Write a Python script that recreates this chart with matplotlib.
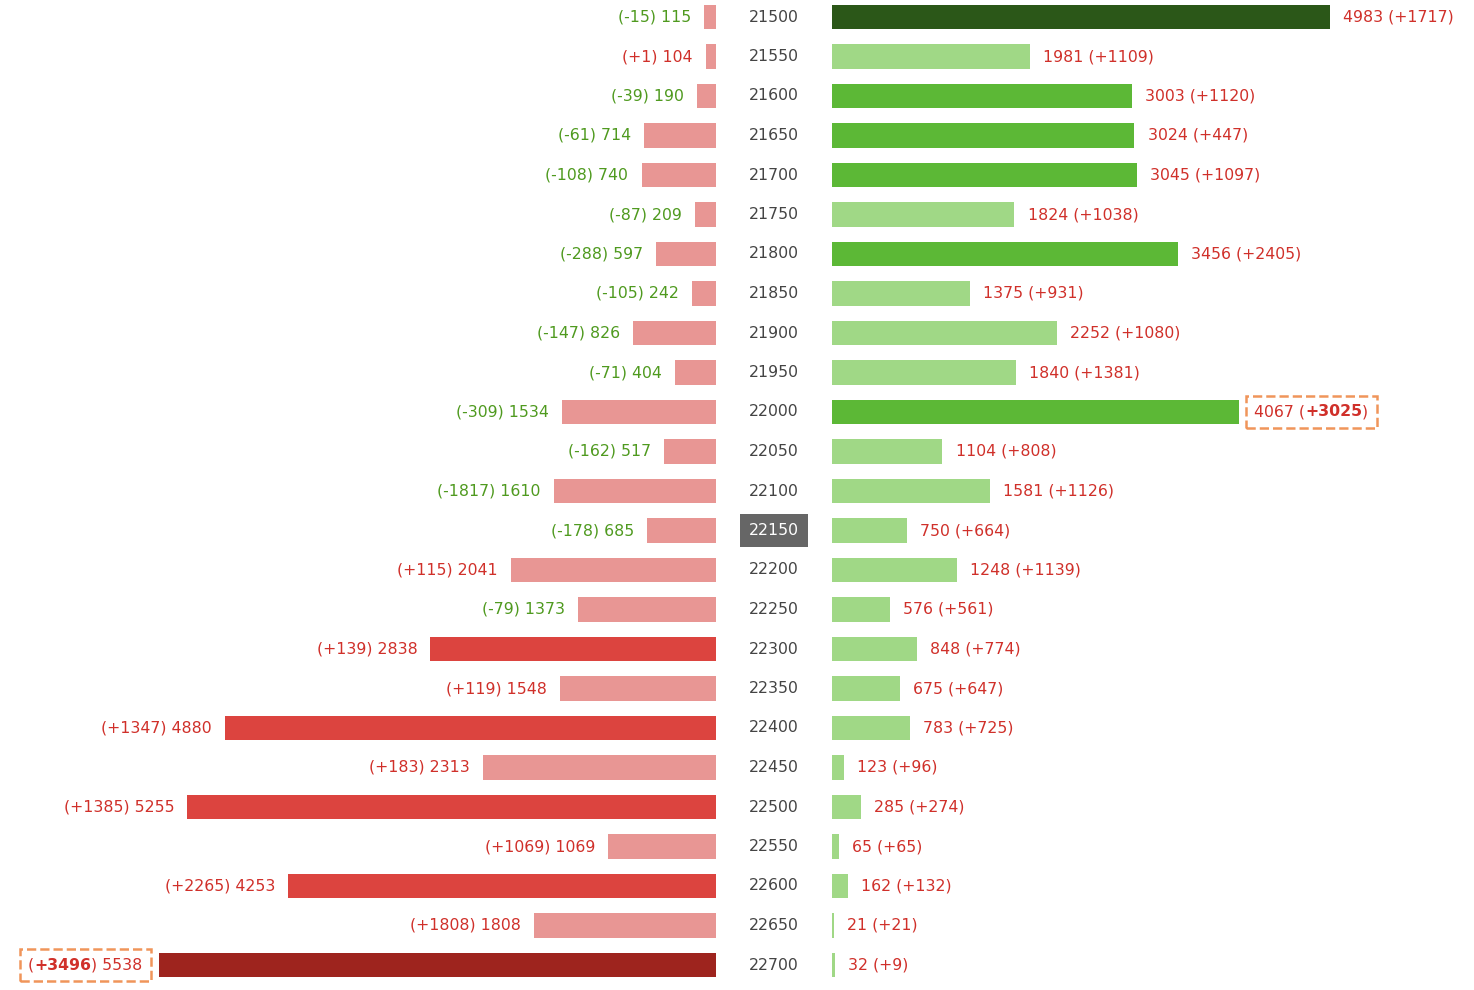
import numpy as np
import matplotlib.pyplot as plt
from matplotlib.transforms import blended_transform_factory
from matplotlib.offsetbox import TextArea, HPacker, AnnotationBbox

plt.rcParams['font.family'] = ['DejaVu Sans']

# 行权价 / 认沽 / 认购 持仓与变化
strikes = [21500, 21550, 21600, 21650, 21700, 21750, 21800, 21850, 21900, 21950,
           22000, 22050, 22100, 22150, 22200, 22250, 22300, 22350, 22400, 22450,
           22500, 22550, 22600, 22650, 22700]
put_oi = [115, 104, 190, 714, 740, 209, 597, 242, 826, 404, 1534, 517, 1610, 685,
          2041, 1373, 2838, 1548, 4880, 2313, 5255, 1069, 4253, 1808, 5538]
put_chg = [-15, 1, -39, -61, -108, -87, -288, -105, -147, -71, -309, -162, -1817, -178,
           115, -79, 139, 119, 1347, 183, 1385, 1069, 2265, 1808, 3496]
call_oi = [4983, 1981, 3003, 3024, 3045, 1824, 3456, 1375, 2252, 1840, 4067, 1104, 1581,
           750, 1248, 576, 848, 675, 783, 123, 285, 65, 162, 21, 32]
call_chg = [1717, 1109, 1120, 447, 1097, 1038, 2405, 931, 1080, 1381, 3025, 808, 1126,
            664, 1139, 561, 774, 647, 725, 96, 274, 65, 132, 21, 9]
atm_strike = 22150

RED_TXT = '#d0302a'
GREEN_TXT = '#4f9a1f'
put_cols = ['#e89694', '#dc443f', '#9e241e']
call_cols = ['#a0d886', '#5cb836', '#2b5718']
FS = 11.3


def level(v, vmax):
    if v == vmax:
        return 2
    return 1 if v > 2500 else 0


fig = plt.figure(figsize=(14.74, 9.9), dpi=100)
W, H = 1474, 990
y_lo, y_hi = -17 / 39.5, (990 - 17) / 39.5

axL = fig.add_axes([0, 0, 716 / W, 1])
axR = fig.add_axes([832 / W, 0, (W - 832) / W, 1])
axL.set_xlim(716 / 0.1006, 0)
axR.set_xlim(0, (W - 832) / 0.1)
for ax in (axL, axR):
    ax.set_ylim(y_hi, y_lo)
    ax.axis('off')

y = np.arange(len(strikes))
pmax, cmax = max(put_oi), max(call_oi)
axL.barh(y, put_oi, height=0.63, color=[put_cols[level(v, pmax)] for v in put_oi])
axR.barh(y, call_oi, height=0.63, color=[call_cols[level(v, cmax)] for v in call_oi])

hp = int(np.argmax(put_chg))
hc = int(np.argmax(call_chg))
box_props = dict(edgecolor='#f0955a', facecolor='white', linestyle='--', linewidth=1.8)

for i in range(len(strikes)):
    # 左侧：认沽
    s = f"({put_chg[i]:+d})"
    col = RED_TXT if put_chg[i] > 0 else GREEN_TXT
    if i == hp:
        parts = HPacker(children=[
            TextArea("(", textprops=dict(color=RED_TXT, fontsize=FS)),
            TextArea(f"{put_chg[i]:+d}", textprops=dict(color=RED_TXT, fontsize=FS, weight='bold')),
            TextArea(f") {put_oi[i]}", textprops=dict(color=RED_TXT, fontsize=FS)),
        ], pad=0, sep=0)
        ab = AnnotationBbox(parts, (put_oi[i], i), xybox=(-12, 0), boxcoords='offset points',
                            box_alignment=(1, 0.5), pad=0.6, bboxprops=box_props, frameon=True)
        axL.add_artist(ab)
    else:
        axL.annotate(f"{s} {put_oi[i]}", (put_oi[i], i), xytext=(-9.5, 0),
                     textcoords='offset points', ha='right', va='center',
                     color=col, fontsize=FS)
    # 右侧：认购
    if i == hc:
        parts = HPacker(children=[
            TextArea(f"{call_oi[i]} (", textprops=dict(color=RED_TXT, fontsize=FS)),
            TextArea(f"{call_chg[i]:+d}", textprops=dict(color=RED_TXT, fontsize=FS, weight='bold')),
            TextArea(")", textprops=dict(color=RED_TXT, fontsize=FS)),
        ], pad=0, sep=0)
        ab = AnnotationBbox(parts, (call_oi[i], i), xybox=(11, 0), boxcoords='offset points',
                            box_alignment=(0, 0.5), pad=0.6, bboxprops=box_props, frameon=True)
        axR.add_artist(ab)
    else:
        axR.annotate(f"{call_oi[i]} ({call_chg[i]:+d})", (call_oi[i], i), xytext=(9.5, 0),
                     textcoords='offset points', ha='left', va='center',
                     color=RED_TXT, fontsize=FS)

    # 中间：行权价
    tr = blended_transform_factory(fig.transFigure, axL.transData)
    if strikes[i] == atm_strike:
        fig.text(774 / W, i, str(strikes[i]), transform=tr, ha='center', va='center',
                 color='white', fontsize=FS,
                 bbox=dict(boxstyle='square,pad=0.6', facecolor='#666666', edgecolor='none'))
    else:
        fig.text(774 / W, i, str(strikes[i]), transform=tr, ha='center', va='center',
                 color='#444444', fontsize=FS)

fig.savefig('out.png', dpi=100)
